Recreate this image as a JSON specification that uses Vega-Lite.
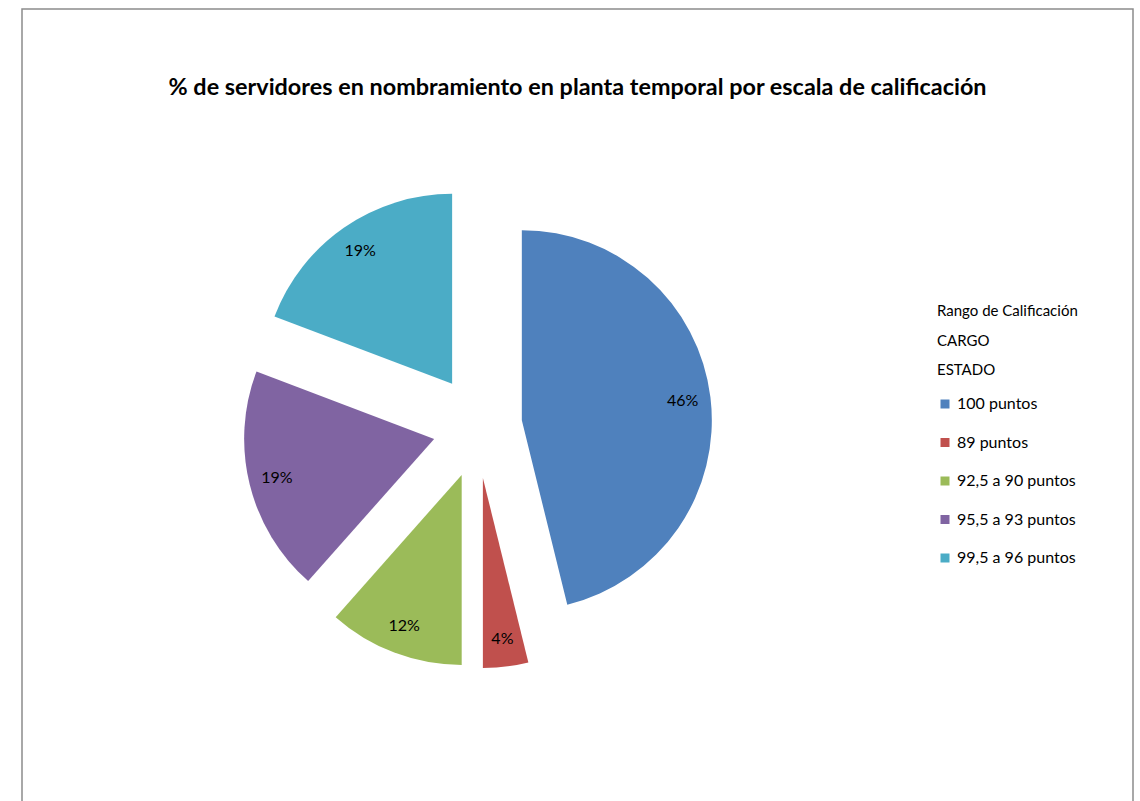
{
  "$schema": "https://vega.github.io/schema/vega-lite/v6.json",
  "autosize": {"type": "fit", "contains": "padding"},
  "width": 1140,
  "height": 801,
  "padding": {"left": 22, "top": 9, "right": 7, "bottom": -3},
  "background": "white",
  "view": {"stroke": "#8c8c8c", "strokeWidth": 1.5, "fill": "white"},
  "config": {"view": {"stroke": "#8c8c8c", "strokeWidth": 1.5}, "font": "Lato"},
  "title": {
    "text": "% de servidores en nombramiento en planta temporal por escala de calificación",
    "fontSize": 23.4,
    "fontWeight": "bold",
    "font": "Lato",
    "color": "#000000",
    "anchor": "middle",
    "offset": -91
  },
  "data": {
    "values": [
      {"rango": "100 puntos", "cuenta": 12, "etiqueta": "46%"},
      {"rango": "89 puntos", "cuenta": 1, "etiqueta": "4%"},
      {"rango": "92,5 a 90 puntos", "cuenta": 3, "etiqueta": "12%"},
      {"rango": "95,5 a 93 puntos", "cuenta": 5, "etiqueta": "19%"},
      {"rango": "99,5 a 96 puntos", "cuenta": 5, "etiqueta": "19%"}
    ]
  },
  "encoding": {
    "theta": {"field": "cuenta", "type": "quantitative", "stack": true},
    "order": {"field": "rango", "type": "nominal", "sort": "ascending"},
    "color": {
      "field": "rango",
      "type": "nominal",
      "scale": {"range": ["#4F81BD", "#C0504D", "#9BBB59", "#8064A2", "#4BACC6"]},
      "legend": {
        "orient": "none",
        "legendX": 915,
        "legendY": 295,
        "title": ["Rango de Calificación", "CARGO", "ESTADO"],
        "titleFontSize": 15,
        "titleFontWeight": "normal",
        "titleLineHeight": 29.5,
        "titlePadding": 18,
        "titleColor": "#000000",
        "labelFontSize": 16,
        "labelColor": "#000000",
        "symbolType": "square",
        "symbolSize": 81,
        "symbolStrokeWidth": 0,
        "rowPadding": 22.5,
        "labelOffset": 4
      }
    }
  },
  "layer": [
    {
      "mark": {
        "type": "arc",
        "radius": 190,
        "strokeWidth": 0,
        "xOffset": {"expr": "-100 + 44.65 * sin((scale('theta', datum.cuenta_start) + scale('theta', datum.cuenta_end)) / 2)"},
        "yOffset": {"expr": "20 - 51.8 * cos((scale('theta', datum.cuenta_start) + scale('theta', datum.cuenta_end)) / 2)"}
      }
    },
    {
      "mark": {
        "type": "text",
        "radius": 162,
        "fontSize": 16,
        "font": "Lato",
        "xOffset": {"expr": "-100 + 44.65 * sin((scale('theta', datum.cuenta_start) + scale('theta', datum.cuenta_end)) / 2)"},
        "yOffset": {"expr": "20 - 51.8 * cos((scale('theta', datum.cuenta_start) + scale('theta', datum.cuenta_end)) / 2)"}
      },
      "encoding": {
        "text": {"field": "etiqueta", "type": "nominal"},
        "color": {"value": "#000000"}
      }
    }
  ]
}
